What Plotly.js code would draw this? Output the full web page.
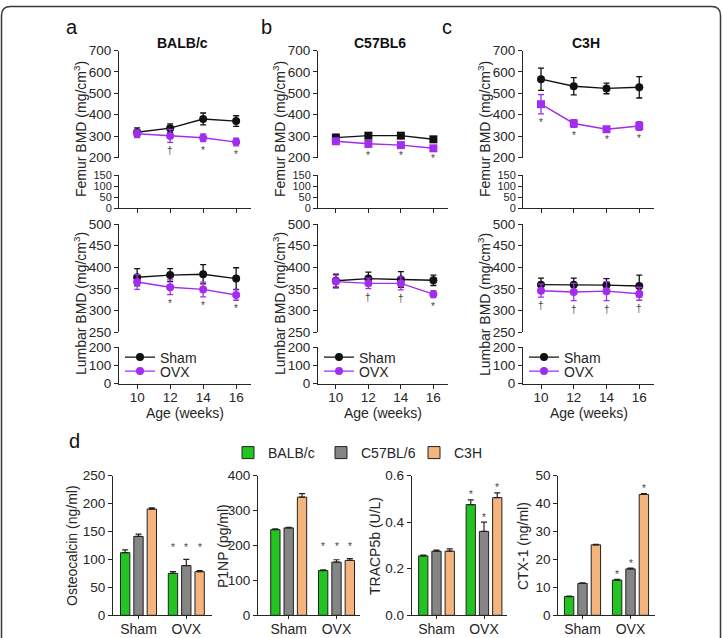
<!DOCTYPE html>
<html><head><meta charset="utf-8">
<script src="https://cdn.plot.ly/plotly-3.0.1.min.js"></script>
<style>html,body{margin:0;padding:0;background:#fff}</style>
</head><body><div id="chart" style="width:723px;height:638px"></div>
<script>
// ---------- DATA ----------
const ages = [10, 12, 14, 16];
const strainTitles = ['BALB/c', 'C57BL6', 'C3H'];
const panelLetters = ['a', 'b', 'c'];
const groupNames = ['Sham', 'OVX'];

const balbFemurSham = [318, 337, 380, 370], balbFemurShamErr = [20, 20, 28, 25];
const balbFemurOvx = [311, 301, 292, 272], balbFemurOvxErr = [18, 30, 18, 18];
const balbLumbarSham = [377, 382, 384, 374], balbLumbarShamErr = [20, 15, 22, 25];
const balbLumbarOvx = [366, 354, 349, 336], balbLumbarOvxErr = [17, 17, 17, 12];
const balbFemurSig = ['', '†', '*', '*'], balbLumbarSig = ['', '*', '*', '*'];

const c57FemurSham = [293, 302, 302, 285], c57FemurShamErr = [15, 8, 10, 10];
const c57FemurOvx = [276, 264, 258, 243], c57FemurOvxErr = [12, 15, 10, 10];
const c57LumbarSham = [369, 374, 372, 370], c57LumbarShamErr = [15, 15, 18, 12];
const c57LumbarOvx = [367, 363, 363, 338], c57LumbarOvxErr = [15, 12, 15, 8];
const c57FemurSig = ['', '*', '*', '*'], c57LumbarSig = ['', '†', '†', '*'];

const c3hFemurSham = [566, 533, 523, 528], c3hFemurShamErr = [52, 40, 25, 50];
const c3hFemurOvx = [449, 359, 332, 347], c3hFemurOvxErr = [45, 18, 10, 20];
const c3hLumbarSham = [360, 360, 359, 357], c3hLumbarShamErr = [15, 15, 15, 25];
const c3hLumbarOvx = [346, 343, 345, 339], c3hLumbarOvxErr = [15, 20, 22, 15];
const c3hFemurSig = ['*', '*', '*', '*'], c3hLumbarSig = ['†', '†', '†', '†'];

const barStrains = ['BALB/c', 'C57BL/6', 'C3H'];
const markerNames = ['Osteocalcin (ng/ml)', 'P1NP (pg/ml)', 'TRACP5b (U/L)', 'CTX-1 (ng/ml)'];
const osteocalcin = [[112, 75], [141, 89], [190, 78]];
const osteocalcinErr = [[5, 3], [4, 11], [2, 2]];
const p1np = [[245, 128], [250, 152], [338, 157]];
const p1npErr = [[2, 2], [2, 7], [10, 5]];
const tracp5b = [[0.255, 0.475], [0.275, 0.36], [0.275, 0.505]];
const tracp5bErr = [[0.003, 0.02], [0.005, 0.04], [0.01, 0.02]];
const ctx1 = [[6.7, 12.6], [11.4, 16.6], [25.2, 43.2]];
const ctx1Err = [[0.2, 0.3], [0.2, 0.3], [0.2, 0.3]];
const barSig = [['', '*'], ['', '*'], ['', '*']];

// ---------- STYLE / GEOMETRY ----------
const W = 723, H = 638;
const px = v => v / W, py = v => 1 - v / H;
const FONT = 'Liberation Sans, Arial, sans-serif';
const INK = '#262626';
const SHAM = '#111111', OVX = '#a22cf0';
const barColors = ['#22c422', '#858585', '#f5b47e'];

const layout = {
  width: W, height: H, margin: {l: 0, r: 0, t: 0, b: 0},
  paper_bgcolor: '#fff', plot_bgcolor: 'rgba(0,0,0,0)',
  font: {family: FONT, color: INK, size: 13.5},
  barmode: 'group', bargap: 0.163, bargroupgap: 0.3,
  showlegend: true, annotations: [], shapes: []
};
const traces = [];
const ref = k => (k === 1 ? '' : String(k));
function axis(o) {
  return Object.assign({
    showgrid: false, zeroline: false, showline: true, linecolor: INK, linewidth: 1,
    ticks: 'outside', ticklen: 4, tickcolor: INK, tickwidth: 1,
    tickfont: {family: FONT, size: 13.5, color: INK}, fixedrange: true
  }, o);
}
function ann(o) {
  layout.annotations.push(Object.assign({showarrow: false, xanchor: 'center', yanchor: 'middle',
    font: {family: FONT, size: 14, color: INK}}, o));
}
function holder(xr, yr) {
  traces.push({type: 'scatter', mode: 'markers', x: [], y: [], xaxis: xr, yaxis: yr, showlegend: false, hoverinfo: 'skip'});
}

const panels = [
  {x0: 119, x1: 251, femS: balbFemurSham, femSE: balbFemurShamErr, femO: balbFemurOvx, femOE: balbFemurOvxErr,
   lumS: balbLumbarSham, lumSE: balbLumbarShamErr, lumO: balbLumbarOvx, lumOE: balbLumbarOvxErr,
   femSig: balbFemurSig, lumSig: balbLumbarSig, letterX: 72, femSym: ['circle', 'circle']},
  {x0: 318, x1: 448, femS: c57FemurSham, femSE: c57FemurShamErr, femO: c57FemurOvx, femOE: c57FemurOvxErr,
   lumS: c57LumbarSham, lumSE: c57LumbarShamErr, lumO: c57LumbarOvx, lumOE: c57LumbarOvxErr,
   femSig: c57FemurSig, lumSig: c57LumbarSig, letterX: 266, femSym: ['square', 'square']},
  {x0: 523, x1: 654, femS: c3hFemurSham, femSE: c3hFemurShamErr, femO: c3hFemurOvx, femOE: c3hFemurOvxErr,
   lumS: c3hLumbarSham, lumSE: c3hLumbarShamErr, lumO: c3hLumbarOvx, lumOE: c3hLumbarOvxErr,
   femSig: c3hFemurSig, lumSig: c3hLumbarSig, letterX: 447, femSym: ['circle', 'square']}
];
const FUP = [50.5, 157.5], FLO = [175, 208.3], LUP = [224, 332.3], LLO = [347, 383.7];
const xRange = [8.9, 16.9];
const legendRows = [357.5, 371.5];

panels.forEach((p, i) => {
  const xf = 2 * i + 1, xl = 2 * i + 2;
  const yfu = 4 * i + 1, yfl = 4 * i + 2, ylu = 4 * i + 3, yll = 4 * i + 4;
  const dom = [px(p.x0), px(p.x1)];
  layout['xaxis' + ref(xf)] = axis({domain: dom, range: xRange, anchor: 'y' + ref(yfl), tickvals: ages, showticklabels: false});
  layout['xaxis' + ref(xl)] = axis({domain: dom, range: xRange, anchor: 'y' + ref(yll), tickvals: ages, ticklabelstandoff: -3});
  layout['yaxis' + ref(yfu)] = axis({domain: [py(FUP[1]), py(FUP[0])], range: [200, 700], dtick: 100, anchor: 'x' + ref(xf)});
  layout['yaxis' + ref(yfl)] = axis({domain: [py(FLO[1]), py(FLO[0])], range: [0, 150], dtick: 50, anchor: 'x' + ref(xf),
    tickfont: {family: FONT, size: 11, color: INK}});
  layout['yaxis' + ref(ylu)] = axis({domain: [py(LUP[1]), py(LUP[0])], range: [250, 500], dtick: 50, anchor: 'x' + ref(xl)});
  layout['yaxis' + ref(yll)] = axis({domain: [py(LLO[1]), py(LLO[0])], range: [0, 200], dtick: 100, anchor: 'x' + ref(xl)});
  holder('x' + ref(xf), 'y' + ref(yfl));
  holder('x' + ref(xl), 'y' + ref(yll));
  const legNames = ['legend' + ref(2 * i + 1), 'legend' + ref(2 * i + 2)];
  const series = [
    {x: 'x' + ref(xf), y: 'y' + ref(yfu), s: p.femS, se: p.femSE, o: p.femO, oe: p.femOE, leg: false, sym: p.femSym},
    {x: 'x' + ref(xl), y: 'y' + ref(ylu), s: p.lumS, se: p.lumSE, o: p.lumO, oe: p.lumOE, leg: true, sym: ['circle', 'circle']}
  ];
  series.forEach(sr => {
    [[groupNames[0], sr.s, sr.se, SHAM, sr.sym[0], 0], [groupNames[1], sr.o, sr.oe, OVX, sr.sym[1], 1]].forEach(([nm, v, e, c, sym, g]) => {
      traces.push({
        type: 'scatter', mode: 'lines+markers', name: nm, x: ages, y: v,
        xaxis: sr.x, yaxis: sr.y, legend: legNames[g], showlegend: sr.leg,
        line: {color: c, width: 1.4}, marker: {color: c, size: 8, symbol: sym},
        error_y: {type: 'data', array: e, visible: true, color: c, thickness: 1.3, width: 3},
        cliponaxis: false
      });
    });
  });
  legNames.forEach((ln, g) => {
    layout[ln] = {x: px(p.x0 + 1), xanchor: 'left', y: py(legendRows[g]), yanchor: 'middle', bgcolor: 'rgba(0,0,0,0)',
      font: {family: FONT, size: 14, color: INK}, itemwidth: 30, borderwidth: 0};
  });
  // significance marks under OVX points
  [[p.femSig, p.femO, p.femOE, 'x' + ref(xf), 'y' + ref(yfu)], [p.lumSig, p.lumO, p.lumOE, 'x' + ref(xl), 'y' + ref(ylu)]].forEach(([sig, v, e, xr, yr]) => {
    sig.forEach((s, k) => {
      if (!s) return;
      ann({xref: xr, yref: yr, x: ages[k], y: v[k] - e[k], text: s, yanchor: 'top', yshift: -1, font: {family: FONT, size: 10, color: '#444'}});
    });
  });
  const cx = (p.x0 + p.x1) / 2;
  ann({xref: 'paper', yref: 'paper', x: px(p.letterX), y: py(27), text: panelLetters[i], font: {family: FONT, size: 20, color: '#111'}});
  ann({xref: 'paper', yref: 'paper', x: px(cx - 3), y: py(43), text: '<b>' + strainTitles[i] + '</b>', font: {family: FONT, size: 14, color: '#111'}});
  ann({xref: 'paper', yref: 'paper', x: px(p.x0 - 39), y: py(129), text: 'Femur BMD (mg/cm<sup>3</sup>)', textangle: -90});
  ann({xref: 'paper', yref: 'paper', x: px(p.x0 - 39), y: py(304), text: 'Lumbar BMD (mg/cm<sup>3</sup>)', textangle: -90});
  ann({xref: 'paper', yref: 'paper', x: px(cx), y: py(413), text: 'Age (weeks)'});
});

// ---------- BAR PANELS ----------
const barPanels = [
  {vals: osteocalcin, errs: osteocalcinErr, x0: 113, x1: 211.6, shamC: 138.5, sp: 47.8, yr: [0, 250], dtick: 50, fmt: '', titleX: 72, sigMode: 'group'},
  {vals: p1np, errs: p1npErr, x0: 258, x1: 360, shamC: 288.7, sp: 47.8, yr: [0, 400], dtick: 100, fmt: '', titleX: 223, sigMode: 'group'},
  {vals: tracp5b, errs: tracp5bErr, x0: 411.7, x1: 507, shamC: 436.5, sp: 47.5, yr: [0, 0.6], dtick: 0.2, fmt: '.1f', titleX: 375, sigMode: 'each'},
  {vals: ctx1, errs: ctx1Err, x0: 558.3, x1: 655, shamC: 582.5, sp: 48, yr: [0, 50], dtick: 10, fmt: '', titleX: 523, sigMode: 'each'}
];
const BY = [475.5, 615.3];
const barLegend = 'legend7';
barPanels.forEach((b, j) => {
  const xk = 7 + j, yk = 13 + j;
  const r0 = -(b.shamC - b.x0) / b.sp, r1 = 1 + (b.x1 - (b.shamC + b.sp)) / b.sp;
  layout['xaxis' + ref(xk)] = axis({domain: [px(b.x0), px(b.x1)], range: [r0, r1], anchor: 'y' + ref(yk),
    type: 'category', categoryarray: groupNames, ticklen: 3, ticklabelstandoff: -2, tickfont: {family: FONT, size: 14, color: INK}});
  layout['yaxis' + ref(yk)] = axis({domain: [py(BY[1]), py(BY[0])], range: b.yr, dtick: b.dtick, tickformat: b.fmt, anchor: 'x' + ref(xk)});
  const slot = b.sp * (1 - layout.bargap) / 3;
  const tops = b.vals.map((v, s) => v.map((vv, g) => vv + b.errs[s][g]));
  b.vals.forEach((v, s) => {
    traces.push({
      type: 'bar', name: barStrains[s], x: groupNames, y: v, xaxis: 'x' + ref(xk), yaxis: 'y' + ref(yk),
      legend: barLegend, showlegend: j === 0,
      marker: {color: barColors[s], line: {color: '#222', width: 1}},
      error_y: {type: 'data', array: b.errs[s], arrayminus: [0, 0], symmetric: false, visible: true, color: '#222', thickness: 1.2, width: 3}
    });
    barSig[s].forEach((sg, g) => {
      if (!sg) return;
      const yv = b.sigMode === 'group' ? Math.max(...tops.map(t => t[g])) : tops[s][g];
      ann({xref: 'x' + ref(xk), yref: 'y' + ref(yk), x: groupNames[g], y: yv, xshift: (s - 1) * slot,
        text: sg, yanchor: 'middle', yshift: b.sigMode === 'group' ? 12 : 5, font: {family: FONT, size: 10, color: '#444'}});
    });
  });
  ann({xref: 'paper', yref: 'paper', x: px(b.titleX), y: py(546), text: markerNames[j], textangle: -90});
});
layout[barLegend] = {orientation: 'h', x: px(228), xanchor: 'left', y: py(453), yanchor: 'middle', bgcolor: 'rgba(0,0,0,0)',
  font: {family: FONT, size: 14, color: INK}, itemwidth: 30, entrywidth: 48, entrywidthmode: 'pixels'};
ann({xref: 'paper', yref: 'paper', x: px(74), y: py(441), text: 'd', font: {family: FONT, size: 20, color: '#111'}});

// ---------- FRAME ----------
(function () {
  const x0 = px(1.5), x1 = px(720.5), yt = py(6.5), yb = py(680), rx = 9 / W, ry = 9 / H;
  layout.shapes.push({type: 'path', xref: 'paper', yref: 'paper', line: {color: '#3a3a3a', width: 1.5},
    path: `M ${x0},${yb} L ${x0},${yt - ry} Q ${x0},${yt} ${x0 + rx},${yt} L ${x1 - rx},${yt} Q ${x1},${yt} ${x1},${yt - ry} L ${x1},${yb}`});
})();

Plotly.newPlot('chart', traces, layout, {displayModeBar: false, staticPlot: true});
</script></body></html>
